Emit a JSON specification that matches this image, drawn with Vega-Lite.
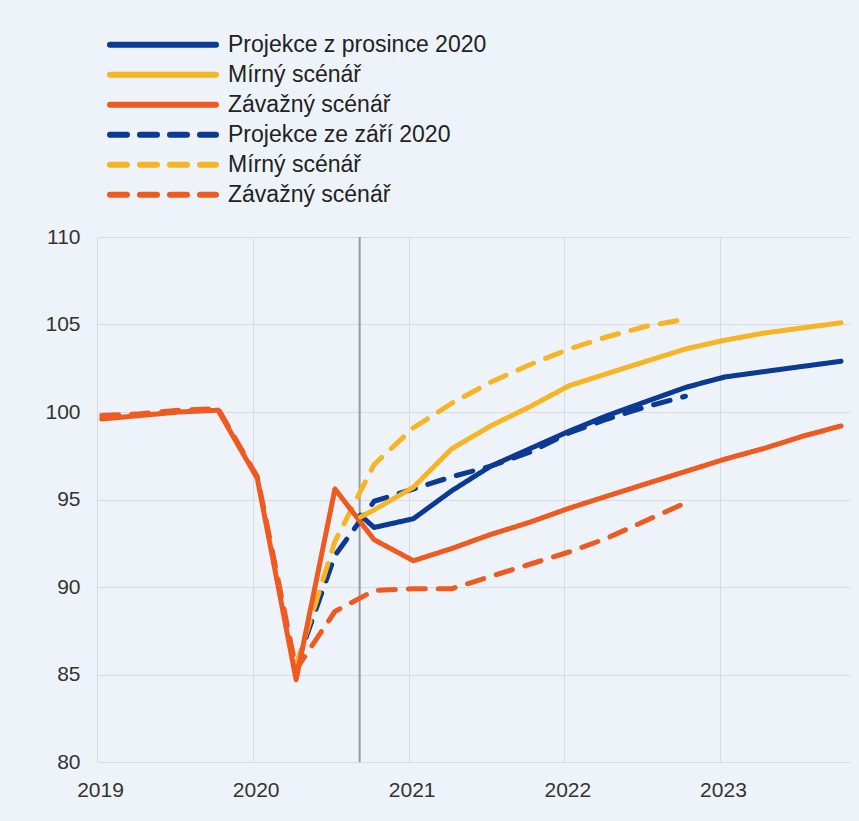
{
  "$schema": "https://vega.github.io/schema/vega-lite/v6.json",
  "width": 753,
  "height": 525,
  "autosize": {"type": "none"},
  "padding": {"left": 97, "top": 237, "right": 9, "bottom": 59},
  "background": "#eef3f9",
  "config": {
    "view": {"stroke": null},
    "font": "Liberation Sans",
    "legend": {
      "orient": "none",
      "legendX": 10,
      "legendY": -207,
      "direction": "vertical",
      "symbolType": "stroke",
      "symbolSize": 11236,
      "symbolStrokeWidth": 6,
      "labelFontSize": 23,
      "labelLimit": 600,
      "labelColor": "#222222",
      "labelOffset": 9,
      "rowPadding": 0,
      "clipHeight": 29.5,
      "padding": 0
    }
  },
  "datasets": {
    "series": [
      {"series": "s3", "date": "2019-01-12", "value": 99.6},
      {"series": "s3", "date": "2019-04-12", "value": 99.8},
      {"series": "s3", "date": "2019-07-12", "value": 100.0},
      {"series": "s3", "date": "2019-10-12", "value": 100.1},
      {"series": "s3", "date": "2020-01-12", "value": 96.2},
      {"series": "s3", "date": "2020-04-12", "value": 84.7},
      {"series": "s3", "date": "2020-07-12", "value": 95.6},
      {"series": "s3", "date": "2020-10-12", "value": 92.7},
      {"series": "s3", "date": "2021-01-12", "value": 91.5},
      {"series": "s3", "date": "2021-04-12", "value": 92.2},
      {"series": "s3", "date": "2021-07-12", "value": 93.0},
      {"series": "s3", "date": "2021-10-12", "value": 93.7},
      {"series": "s3", "date": "2022-01-12", "value": 94.5},
      {"series": "s3", "date": "2022-04-12", "value": 95.2},
      {"series": "s3", "date": "2022-07-12", "value": 95.9},
      {"series": "s3", "date": "2022-10-12", "value": 96.6},
      {"series": "s3", "date": "2023-01-12", "value": 97.3},
      {"series": "s3", "date": "2023-04-12", "value": 97.9},
      {"series": "s3", "date": "2023-07-12", "value": 98.6},
      {"series": "s3", "date": "2023-10-12", "value": 99.2},

      {"series": "s1", "date": "2020-09-10", "value": 94.1},
      {"series": "s1", "date": "2020-10-12", "value": 93.4},
      {"series": "s1", "date": "2021-01-12", "value": 93.9},
      {"series": "s1", "date": "2021-04-12", "value": 95.5},
      {"series": "s1", "date": "2021-07-12", "value": 96.9},
      {"series": "s1", "date": "2021-10-12", "value": 97.9},
      {"series": "s1", "date": "2022-01-12", "value": 98.9},
      {"series": "s1", "date": "2022-04-12", "value": 99.8},
      {"series": "s1", "date": "2022-07-12", "value": 100.6},
      {"series": "s1", "date": "2022-10-12", "value": 101.4},
      {"series": "s1", "date": "2023-01-12", "value": 102.0},
      {"series": "s1", "date": "2023-04-12", "value": 102.3},
      {"series": "s1", "date": "2023-07-12", "value": 102.6},
      {"series": "s1", "date": "2023-10-12", "value": 102.9},

      {"series": "s2", "date": "2020-09-10", "value": 94.0},
      {"series": "s2", "date": "2020-10-12", "value": 94.4},
      {"series": "s2", "date": "2021-01-12", "value": 95.7},
      {"series": "s2", "date": "2021-04-12", "value": 97.9},
      {"series": "s2", "date": "2021-07-12", "value": 99.2},
      {"series": "s2", "date": "2021-10-12", "value": 100.3},
      {"series": "s2", "date": "2022-01-12", "value": 101.5},
      {"series": "s2", "date": "2022-04-12", "value": 102.2},
      {"series": "s2", "date": "2022-07-12", "value": 102.9},
      {"series": "s2", "date": "2022-10-12", "value": 103.6},
      {"series": "s2", "date": "2023-01-12", "value": 104.1},
      {"series": "s2", "date": "2023-04-12", "value": 104.5},
      {"series": "s2", "date": "2023-07-12", "value": 104.8},
      {"series": "s2", "date": "2023-10-12", "value": 105.1},

      {"series": "s4", "date": "2020-04-12", "value": 85.5},
      {"series": "s4", "date": "2020-07-12", "value": 91.8},
      {"series": "s4", "date": "2020-10-12", "value": 94.9},
      {"series": "s4", "date": "2021-01-12", "value": 95.6},
      {"series": "s4", "date": "2021-04-12", "value": 96.3},
      {"series": "s4", "date": "2021-07-12", "value": 96.9},
      {"series": "s4", "date": "2021-10-12", "value": 97.7},
      {"series": "s4", "date": "2022-01-12", "value": 98.8},
      {"series": "s4", "date": "2022-04-12", "value": 99.6},
      {"series": "s4", "date": "2022-07-12", "value": 100.3},
      {"series": "s4", "date": "2022-10-12", "value": 100.9},

      {"series": "s5", "date": "2020-04-12", "value": 85.5},
      {"series": "s5", "date": "2020-07-12", "value": 92.6},
      {"series": "s5", "date": "2020-10-12", "value": 97.0},
      {"series": "s5", "date": "2021-01-12", "value": 99.1},
      {"series": "s5", "date": "2021-04-12", "value": 100.5},
      {"series": "s5", "date": "2021-07-12", "value": 101.7},
      {"series": "s5", "date": "2021-10-12", "value": 102.7},
      {"series": "s5", "date": "2022-01-12", "value": 103.6},
      {"series": "s5", "date": "2022-04-12", "value": 104.3},
      {"series": "s5", "date": "2022-07-12", "value": 104.9},
      {"series": "s5", "date": "2022-10-12", "value": 105.3},

      {"series": "s6", "date": "2019-01-12", "value": 99.8},
      {"series": "s6", "date": "2019-04-12", "value": 99.9},
      {"series": "s6", "date": "2019-07-12", "value": 100.1},
      {"series": "s6", "date": "2019-10-12", "value": 100.2},
      {"series": "s6", "date": "2020-01-12", "value": 96.3},
      {"series": "s6", "date": "2020-04-12", "value": 85.3},
      {"series": "s6", "date": "2020-07-12", "value": 88.6},
      {"series": "s6", "date": "2020-10-12", "value": 89.8},
      {"series": "s6", "date": "2021-01-12", "value": 89.9},
      {"series": "s6", "date": "2021-04-12", "value": 89.9},
      {"series": "s6", "date": "2021-07-12", "value": 90.6},
      {"series": "s6", "date": "2021-10-12", "value": 91.3},
      {"series": "s6", "date": "2022-01-12", "value": 92.0},
      {"series": "s6", "date": "2022-04-12", "value": 92.8},
      {"series": "s6", "date": "2022-07-12", "value": 93.8},
      {"series": "s6", "date": "2022-10-12", "value": 94.8}
    ],
    "marker": [{"date": "2020-09-08"}]
  },
  "encoding": {
    "x": {
      "field": "date",
      "type": "temporal",
      "title": null,
      "scale": {
        "type": "utc",
        "domain": [
          {"year": 2019, "month": 1, "date": 1, "utc": true},
          {"year": 2023, "month": 11, "date": 2, "utc": true}
        ]
      },
      "axis": {
        "values": [
          {"year": 2019, "month": 1, "date": 1, "utc": true},
          {"year": 2020, "month": 1, "date": 1, "utc": true},
          {"year": 2021, "month": 1, "date": 1, "utc": true},
          {"year": 2022, "month": 1, "date": 1, "utc": true},
          {"year": 2023, "month": 1, "date": 1, "utc": true}
        ],
        "format": "%Y",
        "formatType": "utc",
        "grid": true,
        "gridColor": "#d7dce4",
        "gridWidth": 1,
        "domain": false,
        "ticks": false,
        "labelFontSize": 21,
        "labelColor": "#333333",
        "labelPadding": 17,
        "labelOffset": 3,
        "labelFlush": false
      }
    }
  },
  "layer": [
    {
      "data": {"name": "marker"},
      "mark": {"type": "rule", "color": "#9b9b9b", "strokeWidth": 2},
      "encoding": {}
    },
    {
      "data": {"name": "series"},
      "transform": [{"filter": "datum.series >= 's4'"}],
      "mark": {"type": "line", "strokeWidth": 5, "strokeCap": "round", "strokeJoin": "round"},
      "encoding": {
        "y": {
          "field": "value",
          "type": "quantitative",
          "title": null,
          "scale": {"domain": [80, 110], "nice": false, "zero": false},
          "axis": {
            "values": [80, 85, 90, 95, 100, 105, 110],
            "grid": true,
            "gridColor": "#d7dce4",
            "domain": false,
            "ticks": false,
            "labelFontSize": 21,
            "labelColor": "#333333",
            "labelPadding": 17
          }
        },
        "color": {
          "field": "series",
          "type": "nominal",
          "scale": {
            "domain": ["s1", "s2", "s3", "s4", "s5", "s6"],
            "range": ["#0b3a94", "#f6b526", "#ef5a20", "#0b3a94", "#f6b526", "#ef5a20"]
          },
          "legend": {
            "title": null,
            "labelExpr": "datum.label == 's1' ? 'Projekce z prosince 2020' : datum.label == 's2' ? 'Mírný scénář' : datum.label == 's3' ? 'Závažný scénář' : datum.label == 's4' ? 'Projekce ze září 2020' : datum.label == 's5' ? 'Mírný scénář' : 'Závažný scénář'",
            "encode": {"symbols": {"update": {"strokeCap": {"value": "round"}}}}
          }
        },
        "strokeDash": {
          "field": "series",
          "type": "nominal",
          "scale": {
            "domain": ["s1", "s2", "s3", "s4", "s5", "s6"],
            "range": [[1, 0], [1, 0], [1, 0], [17, 13], [17, 13], [17, 13]]
          },
          "legend": {
            "title": null,
            "labelExpr": "datum.label == 's1' ? 'Projekce z prosince 2020' : datum.label == 's2' ? 'Mírný scénář' : datum.label == 's3' ? 'Závažný scénář' : datum.label == 's4' ? 'Projekce ze září 2020' : datum.label == 's5' ? 'Mírný scénář' : 'Závažný scénář'",
            "encode": {"symbols": {"update": {"strokeCap": {"value": "round"}}}}
          }
        }
      }
    },
    {
      "data": {"name": "series"},
      "transform": [{"filter": "datum.series <= 's3'"}],
      "mark": {"type": "line", "strokeWidth": 5, "strokeCap": "round", "strokeJoin": "round"},
      "encoding": {
        "y": {
          "field": "value",
          "type": "quantitative",
          "title": null,
          "scale": {"domain": [80, 110], "nice": false, "zero": false},
          "axis": {
            "values": [80, 85, 90, 95, 100, 105, 110],
            "grid": true,
            "gridColor": "#d7dce4",
            "domain": false,
            "ticks": false,
            "labelFontSize": 21,
            "labelColor": "#333333",
            "labelPadding": 17
          }
        },
        "color": {
          "field": "series",
          "type": "nominal",
          "scale": {
            "domain": ["s1", "s2", "s3", "s4", "s5", "s6"],
            "range": ["#0b3a94", "#f6b526", "#ef5a20", "#0b3a94", "#f6b526", "#ef5a20"]
          },
          "legend": {
            "title": null,
            "labelExpr": "datum.label == 's1' ? 'Projekce z prosince 2020' : datum.label == 's2' ? 'Mírný scénář' : datum.label == 's3' ? 'Závažný scénář' : datum.label == 's4' ? 'Projekce ze září 2020' : datum.label == 's5' ? 'Mírný scénář' : 'Závažný scénář'",
            "encode": {"symbols": {"update": {"strokeCap": {"value": "round"}}}}
          }
        },
        "strokeDash": {
          "field": "series",
          "type": "nominal",
          "scale": {
            "domain": ["s1", "s2", "s3", "s4", "s5", "s6"],
            "range": [[1, 0], [1, 0], [1, 0], [17, 13], [17, 13], [17, 13]]
          },
          "legend": {
            "title": null,
            "labelExpr": "datum.label == 's1' ? 'Projekce z prosince 2020' : datum.label == 's2' ? 'Mírný scénář' : datum.label == 's3' ? 'Závažný scénář' : datum.label == 's4' ? 'Projekce ze září 2020' : datum.label == 's5' ? 'Mírný scénář' : 'Závažný scénář'",
            "encode": {"symbols": {"update": {"strokeCap": {"value": "round"}}}}
          }
        }
      }
    }
  ]
}
